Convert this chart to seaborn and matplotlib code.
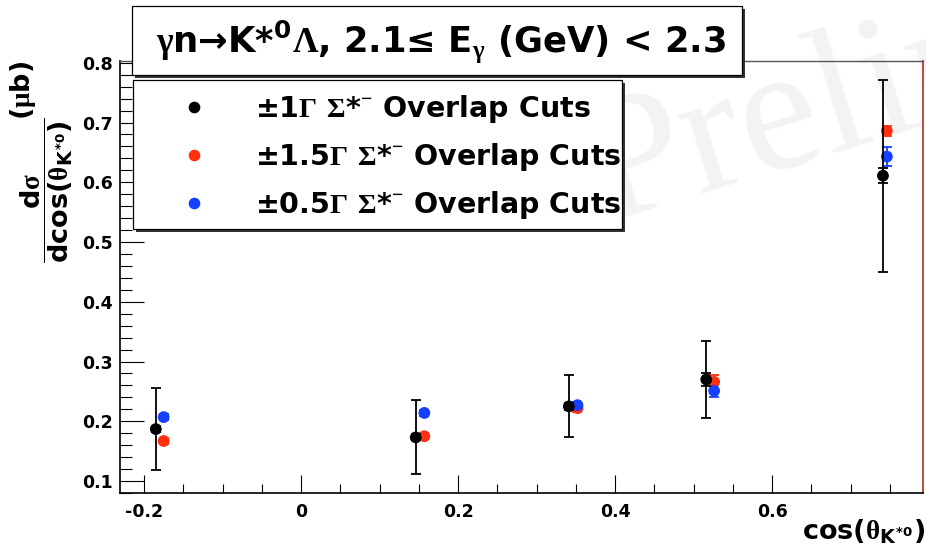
import numpy as np
import pandas as pd
import matplotlib
matplotlib.use("Agg")
import matplotlib.pyplot as plt
import seaborn as sns
from matplotlib.patches import Rectangle
from matplotlib.lines import Line2D
from matplotlib.ticker import MultipleLocator

# ---------------- data ----------------
cut_labels = [r"±1$\mathsf{\Gamma}$ $\mathsf{\Sigma}$*$^{\mathsf{-}}$ Overlap Cuts",
              r"±1.5$\mathsf{\Gamma}$ $\mathsf{\Sigma}$*$^{\mathsf{-}}$ Overlap Cuts",
              r"±0.5$\mathsf{\Gamma}$ $\mathsf{\Sigma}$*$^{\mathsf{-}}$ Overlap Cuts"]
cut_colors = ["#000000", "#ff3010", "#1540ff"]

cos_1g = [-0.185, 0.146, 0.341, 0.516, 0.741]
xs_1g = [0.187, 0.173, 0.225, 0.270, 0.611]
err_1g = [0.068, 0.062, 0.052, 0.065, 0.161]
err_1g_stat = [0.005, 0.005, 0.006, 0.011, 0.013]

cos_15g = [-0.175, 0.157, 0.352, 0.526, 0.746]
xs_15g = [0.167, 0.175, 0.222, 0.266, 0.686]
err_15g = [0.005, 0.005, 0.006, 0.012, 0.008]

cos_05g = [-0.175, 0.157, 0.352, 0.526, 0.746]
xs_05g = [0.207, 0.214, 0.227, 0.251, 0.643]
err_05g = [0.005, 0.005, 0.006, 0.010, 0.016]

x_ticks = [-0.2, 0.0, 0.2, 0.4, 0.6]
x_ticklabels = ["-0.2", "0", "0.2", "0.4", "0.6"]
y_ticks = [0.1, 0.2, 0.3, 0.4, 0.5, 0.6, 0.7, 0.8]
y_ticklabels = ["0.1", "0.2", "0.3", "0.4", "0.5", "0.6", "0.7", "0.8"]

title_text = (r"$\mathsf{\gamma}$n→K*$^{0}$$\mathsf{\Lambda}$, 2.1≤ "
              r"E$_{\mathsf{\gamma}}$ (GeV) < 2.3")

# ---------------- style ----------------
sns.set_theme(style="white")
plt.rcParams["font.family"] = ["DejaVu Sans"]
plt.rcParams["font.weight"] = "bold"
plt.rcParams["text.color"] = "black"
plt.rcParams["axes.labelcolor"] = "black"
plt.rcParams["xtick.color"] = "black"
plt.rcParams["ytick.color"] = "black"
plt.rcParams["axes.unicode_minus"] = False
plt.rcParams["mathtext.fontset"] = "custom"
plt.rcParams["mathtext.rm"] = "DejaVu Sans:bold"
plt.rcParams["mathtext.it"] = "DejaVu Sans:bold"
plt.rcParams["mathtext.bf"] = "DejaVu Sans:bold"
plt.rcParams["mathtext.sf"] = "Liberation Serif"

W, H = 926, 554
fig = plt.figure(figsize=(W / 100, H / 100), dpi=100)
fig.patch.set_facecolor("white")


def fx(px):
    return px / W


def fy(py):
    return 1 - py / H


ax = fig.add_axes([fx(120), fy(493), fx(923) - fx(120), fy(61) - fy(493)])
ax.set_zorder(1)
ax.patch.set_alpha(0)

# watermark
fig.text(fx(605), fy(222), "Preliminary", rotation=17, rotation_mode="anchor",
         fontsize=128, family="Liberation Serif", fontweight="normal",
         color="#f3f3f3", ha="left", va="baseline", zorder=0)

# ---------------- data frame & drawing ----------------
df = pd.concat([
    pd.DataFrame({"cos": cos_15g, "xs": xs_15g, "err": err_15g, "cut": cut_labels[1]}),
    pd.DataFrame({"cos": cos_05g, "xs": xs_05g, "err": err_05g, "cut": cut_labels[2]}),
    pd.DataFrame({"cos": cos_1g, "xs": xs_1g, "err": err_1g, "cut": cut_labels[0]}),
], ignore_index=True)
palette = dict(zip(cut_labels, cut_colors))

for lab, zo in [(cut_labels[1], 2), (cut_labels[2], 2), (cut_labels[0], 4)]:
    sub = df[df["cut"] == lab]
    ax.errorbar(sub["cos"], sub["xs"], yerr=sub["err"], fmt="none",
                ecolor=palette[lab], elinewidth=1.3, capsize=3.5, capthick=1.3,
                zorder=zo)
ax.errorbar(cos_1g, xs_1g, yerr=err_1g_stat, fmt="none", ecolor="black",
            elinewidth=1.3, capsize=3.5, capthick=1.3, zorder=4)

sns.scatterplot(data=df, x="cos", y="xs", hue="cut", palette=palette,
                s=72, linewidth=0, legend=False, ax=ax, zorder=3)

ax.set_xlim(-0.2306, 0.792)
ax.set_ylim(0.08, 0.803)
ax.set_xlabel("")
ax.set_ylabel("")
ax.set_xticks(x_ticks)
ax.set_xticklabels(x_ticklabels)
ax.set_yticks(y_ticks)
ax.set_yticklabels(y_ticklabels)
ax.xaxis.set_minor_locator(MultipleLocator(0.05))
ax.yaxis.set_minor_locator(MultipleLocator(0.02))
ax.tick_params(axis="x", which="major", direction="in", length=13, width=0.8,
               labelsize=12.5, pad=7, colors="black")
ax.tick_params(axis="x", which="minor", direction="in", length=6.5, width=0.8)
ax.tick_params(axis="y", which="major", direction="in", length=17, width=0.8,
               labelsize=12.5, pad=5, colors="black")
ax.tick_params(axis="y", which="minor", direction="in", length=8.5, width=0.8)
ax.tick_params(which="both", bottom=True, left=True, top=False, right=False)
for lab in ax.get_xticklabels() + ax.get_yticklabels():
    lab.set_fontweight("bold")

for s in ["left", "bottom"]:
    ax.spines[s].set_color("black")
    ax.spines[s].set_linewidth(1.2)
ax.spines["top"].set_color("#555555")
ax.spines["top"].set_linewidth(1.0)
ax.spines["right"].set_color("#b52a18")
ax.spines["right"].set_linewidth(1.2)

# ---------------- legend (box drawn as shadowed rectangle) ----------------
ax.add_patch(Rectangle((fx(136), fy(232)), fx(625) - fx(136), fy(83) - fy(232),
                       transform=fig.transFigure, facecolor="#333333",
                       edgecolor="none", zorder=4.6, clip_on=False))
ax.add_patch(Rectangle((fx(133), fy(229)), fx(622) - fx(133), fy(80) - fy(229),
                       transform=fig.transFigure, facecolor="white",
                       edgecolor="black", linewidth=0.9, zorder=4.7, clip_on=False))
handles = [Line2D([0], [0], linestyle="none", marker="o", markersize=8.4,
                  markerfacecolor=c, markeredgewidth=0, color=c) for c in cut_colors]
leg = ax.legend(handles, cut_labels, loc="upper left",
                bbox_to_anchor=(fx(133), fy(229), fx(622) - fx(133), fy(80) - fy(229)),
                bbox_transform=fig.transFigure, mode="expand", borderaxespad=0,
                prop={"size": 20.5, "weight": "bold", "family": "DejaVu Sans"},
                frameon=False, borderpad=0.45, handlelength=3.4,
                handletextpad=0.45, labelspacing=0.57)
leg.set_zorder(5)
for t in leg.get_texts():
    t.set_color("black")

# ---------------- title box ----------------
fig.patches.append(Rectangle((fx(135), fy(78)), fx(745) - fx(135), fy(9) - fy(78),
                             transform=fig.transFigure, facecolor="#333333",
                             edgecolor="none", zorder=6))
fig.patches.append(Rectangle((fx(132), fy(75)), fx(742) - fx(132), fy(6) - fy(75),
                             transform=fig.transFigure, facecolor="white",
                             edgecolor="black", linewidth=0.9, zorder=7))
fig.text(fx(441), fy(42), title_text, fontsize=25.5, fontweight="bold",
         ha="center", va="center", zorder=8)

# ---------------- axis labels ----------------
fig.text(fx(47), fy(190),
         r"$\dfrac{d\mathsf{\sigma}}{dcos(\mathsf{\theta}_{K^{*0}})}$",
         rotation=90, fontsize=19.5, ha="center", va="center")
fig.text(fx(23), fy(90), r"($\mathsf{\mu}$b)", rotation=90, fontsize=19.5,
         ha="center", va="center")
fig.text(fx(925), fy(540), r"cos($\mathsf{\theta}_{K^{*0}}$)", fontsize=19.5,
         ha="right", va="baseline")

fig.savefig("out.png", dpi=100, facecolor="white")
